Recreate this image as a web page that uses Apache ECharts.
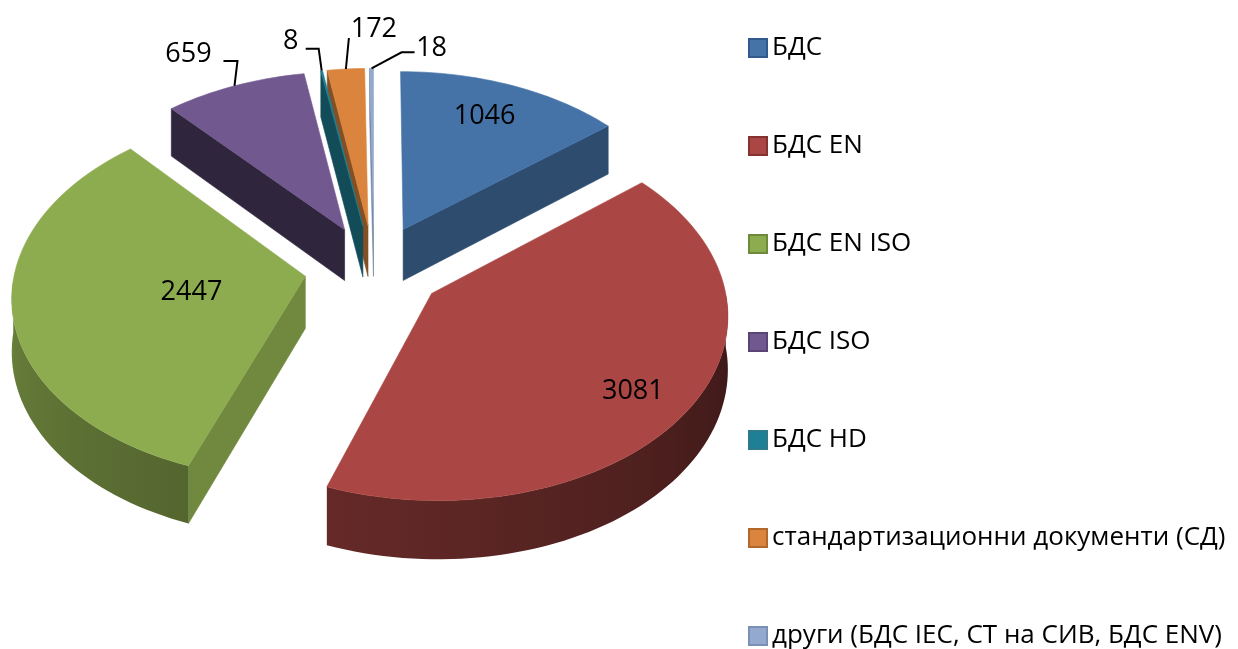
<!DOCTYPE html>
<html>
<head>
<meta charset="utf-8">
<style>
html, body { margin: 0; padding: 0; background: #fff; }
#chart { width: 1238px; height: 649px; }
</style>
<script src="https://cdn.jsdelivr.net/npm/echarts@6/dist/echarts.min.js"></script>
</head>
<body>
<div id="chart"></div>
<script>
const categories = ['БДС', 'БДС EN', 'БДС EN ISO', 'БДС ISO', 'БДС HD', 'стандартизационни документи (СД)', 'други (БДС IEC, СТ на СИВ, БДС ENV)'];
const values = [1046, 3081, 2447, 659, 8, 172, 18];

const colors = ['#4573a7', '#aa4643', '#8dab4f', '#71588f', '#1f7f94', '#db843d', '#93a9cf'];
const borders = ['#2f5a8b', '#853331', '#6c8a3a', '#5a4475', '#2e7a8c', '#b0682c', '#7b90b5'];
const cutShade = [0.66, 0.6, 0.8, 0.42, 0.6, 0.6, 0.75];
const drawOrder = [5, 7, 6, 1, 3, 2, 4];

// label placement: inner labels sit at a fraction of the radius,
// outer ones hang on a leader line given as px steps from the rim
const innerLabel = {
    0: { r: 0.71, shift: [2, -9] },
    1: { r: 0.77, shift: [5, 11] },
    2: { r: 0.40, shift: [2, 2] }
};
const outerLabel = {
    3: { path: [[3, -25], [-11, -25]], text: [-46, -32] },
    4: { path: [[-3, -22], [-16, -22]], text: [-31, -29] },
    5: { path: [[3, -31]], text: [28, -40] },
    6: { path: [[30, -16], [43, -16]], text: [60, -20] }
};

// fake 3D projection of the exploded pie, unit circle -> screen
const cx = 374, cy = 268, rx = 290, ry = 181, persp = 0.1, depth = 52, explode = 0.24;
const total = values.reduce(function (a, b) { return a + b; }, 0);

function project(u, v, down) {
    const s = 1 + persp * v;
    return [cx + rx * u / s, cy - ry * v / s + (down ? depth / s : 0)];
}

function shade(hex, f) {
    const n = parseInt(hex.slice(1), 16);
    return 'rgb(' + Math.round((n >> 16) * f) + ',' + Math.round(((n >> 8) & 255) * f) + ',' + Math.round((n & 255) * f) + ')';
}

function sliceAngles(idx) {
    let sum = 0;
    for (let i = 0; i < idx; i++) sum += values[i];
    const a0 = sum / total * Math.PI * 2;
    const a1 = (sum + values[idx]) / total * Math.PI * 2;
    return [a0, a1, (a0 + a1) / 2];
}

function rimPoint(idx, r) {
    const m = sliceAngles(idx)[2];
    return project((explode + r) * Math.sin(m), (explode + r) * Math.cos(m), false);
}

function wallShade(a) {
    const deg = a * 180 / Math.PI;
    return 0.34 + Math.min(1, Math.max(0, (deg - 90) / 180)) * 0.42;
}

function renderSlice(idx) {
    const ang = sliceAngles(idx);
    const ex = explode * Math.sin(ang[2]), ey = explode * Math.cos(ang[2]);
    const rim = [];
    const steps = Math.max(1, Math.ceil((ang[1] - ang[0]) / 0.03));
    for (let i = 0; i <= steps; i++) {
        const a = ang[0] + (ang[1] - ang[0]) * i / steps;
        rim.push({ a: a, u: ex + Math.sin(a), v: ey + Math.cos(a) });
    }
    const col = colors[idx];
    const children = [];
    const first = rim[0], last = rim[rim.length - 1];

    // cut walls, only the ones that face the viewer
    [[first, Math.sin(ang[0]) < 0], [last, Math.sin(ang[1]) > 0]].forEach(function (w) {
        if (!w[1]) return;
        const p = w[0];
        const fill = shade(col, cutShade[idx]);
        children.push({
            type: 'polygon',
            shape: { points: [project(ex, ey, false), project(p.u, p.v, false), project(p.u, p.v, true), project(ex, ey, true)] },
            style: { fill: fill, stroke: fill, lineWidth: 0.6 }
        });
    });

    // outer wall, front half of the rim only, darker to the right
    const front = rim.filter(function (p) { return Math.cos(p.a) < 0; });
    if (front.length > 1) {
        const upper = front.map(function (p) { return project(p.u, p.v, false); });
        const lower = front.map(function (p) { return project(p.u, p.v, true); }).reverse();
        const xs = upper.map(function (p) { return p[0]; });
        const x0 = Math.min.apply(null, xs), x1 = Math.max.apply(null, xs);
        const stops = front.map(function (p, i) {
            return { offset: (xs[i] - x0) / (x1 - x0), color: shade(col, wallShade(p.a)) };
        }).sort(function (a, b) { return a.offset - b.offset; });
        children.push({
            type: 'polygon',
            shape: { points: upper.concat(lower) },
            style: { fill: new echarts.graphic.LinearGradient(x0, 0, x1, 0, stops, true) }
        });
    }

    const top = [project(ex, ey, false)];
    rim.forEach(function (p) { top.push(project(p.u, p.v, false)); });
    children.push({
        type: 'polygon',
        shape: { points: top },
        style: { fill: col, stroke: col, lineWidth: 0.6 }
    });
    return { type: 'group', children: children };
}

function labelText(x, y, str) {
    return {
        type: 'text',
        style: { x: x, y: y, text: str, fill: '#000', font: '27px "Open Sans"', align: 'center', verticalAlign: 'middle' }
    };
}

function renderLabel(params, api) {
    const idx = params.dataIndex;
    const str = String(api.value(0));
    if (innerLabel[idx] !== undefined) {
        const l = innerLabel[idx];
        const p = rimPoint(idx, l.r);
        return labelText(p[0] + l.shift[0], p[1] + l.shift[1], str);
    }
    const o = outerLabel[idx];
    const r = rimPoint(idx, 1);
    const pts = [r].concat(o.path.map(function (s) { return [r[0] + s[0], r[1] + s[1]]; }));
    return {
        type: 'group',
        children: [
            { type: 'polyline', shape: { points: pts }, style: { stroke: '#000', lineWidth: 2, fill: null } },
            labelText(r[0] + o.text[0], r[1] + o.text[1], str)
        ]
    };
}

const series = categories.map(function (name, idx) {
    return {
        name: name,
        type: 'custom',
        coordinateSystem: 'none',
        z: drawOrder[idx],
        silent: true,
        itemStyle: { color: colors[idx] },
        data: [values[idx]],
        renderItem: function () { return renderSlice(idx); }
    };
});
series.push({
    name: 'labels',
    type: 'custom',
    coordinateSystem: 'none',
    z: 20,
    silent: true,
    data: values,
    renderItem: renderLabel
});

const chart = echarts.init(document.getElementById('chart'));
chart.setOption({
    backgroundColor: '#fff',
    animation: false,
    legend: {
        orient: 'vertical',
        left: 748,
        top: 35,
        height: 620,
        padding: 0,
        itemWidth: 18,
        itemHeight: 18,
        itemGap: 72,
        icon: 'rect',
        selectedMode: false,
        textStyle: { color: '#000', fontFamily: '"Open Sans"', fontSize: 26, lineHeight: 24 },
        data: categories.map(function (name, idx) {
            return { name: name, itemStyle: { color: colors[idx], borderColor: borders[idx], borderWidth: 2 } };
        })
    },
    series: series
});

window.onresize = function () {
    chart.resize();
};
</script>
</body>
</html>
